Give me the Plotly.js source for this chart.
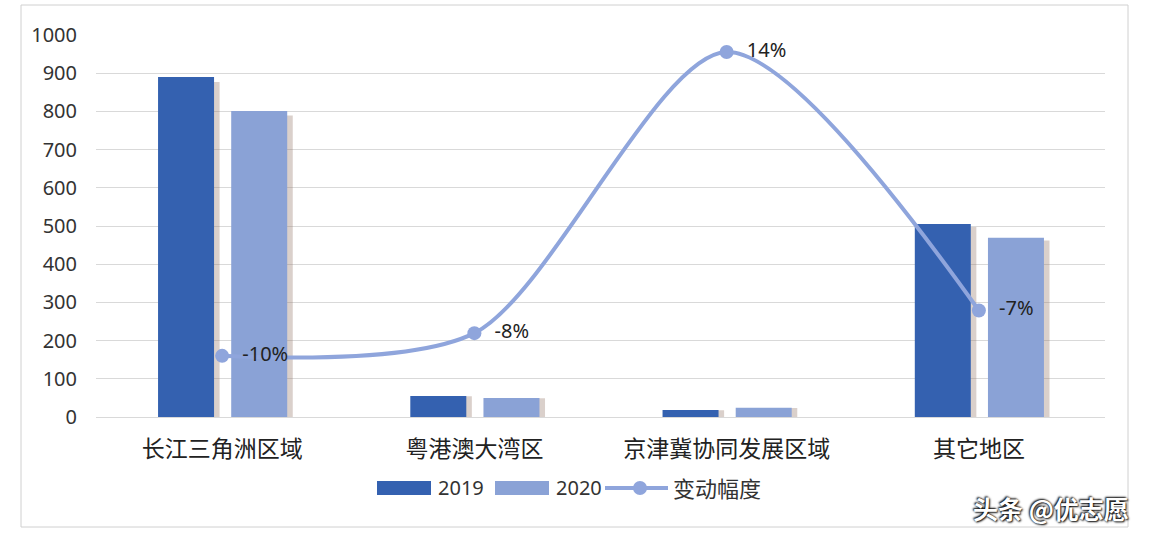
<!DOCTYPE html>
<html><head><meta charset="utf-8">
<script src="https://cdn.plot.ly/plotly-3.0.1.min.js"></script>
<style>body{margin:0;background:#fff}#c{width:1150px;height:542px}</style>
</head><body><div id="c"></div>
<script>
const categories = ['长江三角洲区域','粤港澳大湾区','京津冀协同发展区域','其它地区'];
const values2019 = [890, 55, 18, 505];
const values2020 = [801, 50, 24, 469];
const changeRate = [-0.102, -0.084, 0.139, -0.066];
const seriesNames = ['2019','2020','变动幅度'];

const FONT = 'Noto Sans, Noto Sans CJK SC, sans-serif';
const c2019 = '#3461b0', c2020 = '#8aa2d6', cLine = '#8fa5dc';
const shadow = 'rgba(150,120,105,0.35)';
const W = 0.222;

// layout helpers: pixel -> paper coords (plot area 96..1105 x, 35..417 y)
const L = 96, R = 1105, T = 35, B = 417;
const px = p => (p - L) / (R - L);
const py = p => (B - p) / (B - T);

const traces = [
  {type:'bar', x:categories, y:values2019.map(v=>v*0.985), width:W, offset:-0.254+0.022,
   marker:{color:shadow}, showlegend:false, hoverinfo:'skip'},
  {type:'bar', x:categories, y:values2020.map(v=>v*0.985), width:W, offset:0.036+0.022,
   marker:{color:shadow}, showlegend:false, hoverinfo:'skip'},
  {type:'bar', name:seriesNames[0], x:categories, y:values2019, width:W, offset:-0.254,
   marker:{color:c2019}, showlegend:false},
  {type:'bar', name:seriesNames[1], x:categories, y:values2020, width:W, offset:0.036,
   marker:{color:c2020}, showlegend:false},
  {type:'scatter', mode:'lines+markers+text', name:seriesNames[2], x:categories, y:changeRate, yaxis:'y2',
   line:{color:cLine, width:4, shape:'spline', smoothing:0.8},
   marker:{color:cLine, size:14},
   text:changeRate.map(v=>'  '+Math.round(v*100)+'%'), textposition:'middle right',
   textfont:{size:20, color:'#222', family:FONT}, cliponaxis:false, showlegend:false}
];

const legendY = 488;
const shapes = [
  {type:'rect', xref:'paper', yref:'paper', x0:px(21), x1:px(1128), y0:py(527), y1:py(5),
   line:{color:'#d0d0d0', width:1}, fillcolor:'rgba(0,0,0,0)', layer:'below'},
  {type:'rect', xref:'paper', yref:'paper', x0:px(377), x1:px(431), y0:py(495), y1:py(481),
   fillcolor:c2019, line:{width:0}},
  {type:'rect', xref:'paper', yref:'paper', x0:px(495), x1:px(549), y0:py(495), y1:py(481),
   fillcolor:c2020, line:{width:0}},
  {type:'line', xref:'paper', yref:'paper', x0:px(605), x1:px(668), y0:py(legendY), y1:py(legendY),
   line:{color:cLine, width:4}},
  {type:'circle', xref:'paper', yref:'paper', x0:px(633), x1:px(647), y0:py(legendY+7), y1:py(legendY-7),
   fillcolor:cLine, line:{width:0}}
];
const legFont = {size:20, color:'#333', family:FONT};
const annotations = [
  {xref:'paper', yref:'paper', x:px(436), y:py(legendY), xanchor:'left', yanchor:'middle', showarrow:false,
   text:seriesNames[0], font:legFont},
  {xref:'paper', yref:'paper', x:px(554), y:py(legendY), xanchor:'left', yanchor:'middle', showarrow:false,
   text:seriesNames[1], font:legFont},
  {xref:'paper', yref:'paper', x:px(671), y:py(legendY), xanchor:'left', yanchor:'middle', showarrow:false,
   text:seriesNames[2], font:{size:22, color:'#333', family:FONT}},
  {xref:'paper', yref:'paper', x:px(1131), y:py(508), xanchor:'right', yanchor:'middle',
   text:'头条 @优志愿', showarrow:false,
   font:{size:25, color:'#fff', family:'Noto Sans CJK SC', weight:700, shadow:'1px 1px 2px #000, -1px -1px 2px #000'}}
];

const layout = {
  width:1150, height:542,
  margin:{l:L, r:1150-R, t:T, b:542-B},
  paper_bgcolor:'#fff', plot_bgcolor:'#fff',
  font:{family:FONT, color:'#333'},
  barmode:'overlay', showlegend:false,
  xaxis:{type:'category', showgrid:false, zeroline:false, showline:false,
         tickfont:{size:23, color:'#222'}, ticks:'', ticklabelstandoff:16},
  yaxis:{range:[0,1000], dtick:100, gridcolor:'#d9d9d9', gridwidth:1, zeroline:true, zerolinecolor:'#d9d9d9',
         showline:false, tickfont:{size:20, color:'#333'}, ticklabelstandoff:18},
  yaxis2:{overlaying:'y', side:'right', range:[-0.1505,0.1525], visible:false, showgrid:false},
  shapes:shapes, annotations:annotations
};
Plotly.newPlot('c', traces, layout, {displayModeBar:false, staticPlot:true});
</script></body></html>
